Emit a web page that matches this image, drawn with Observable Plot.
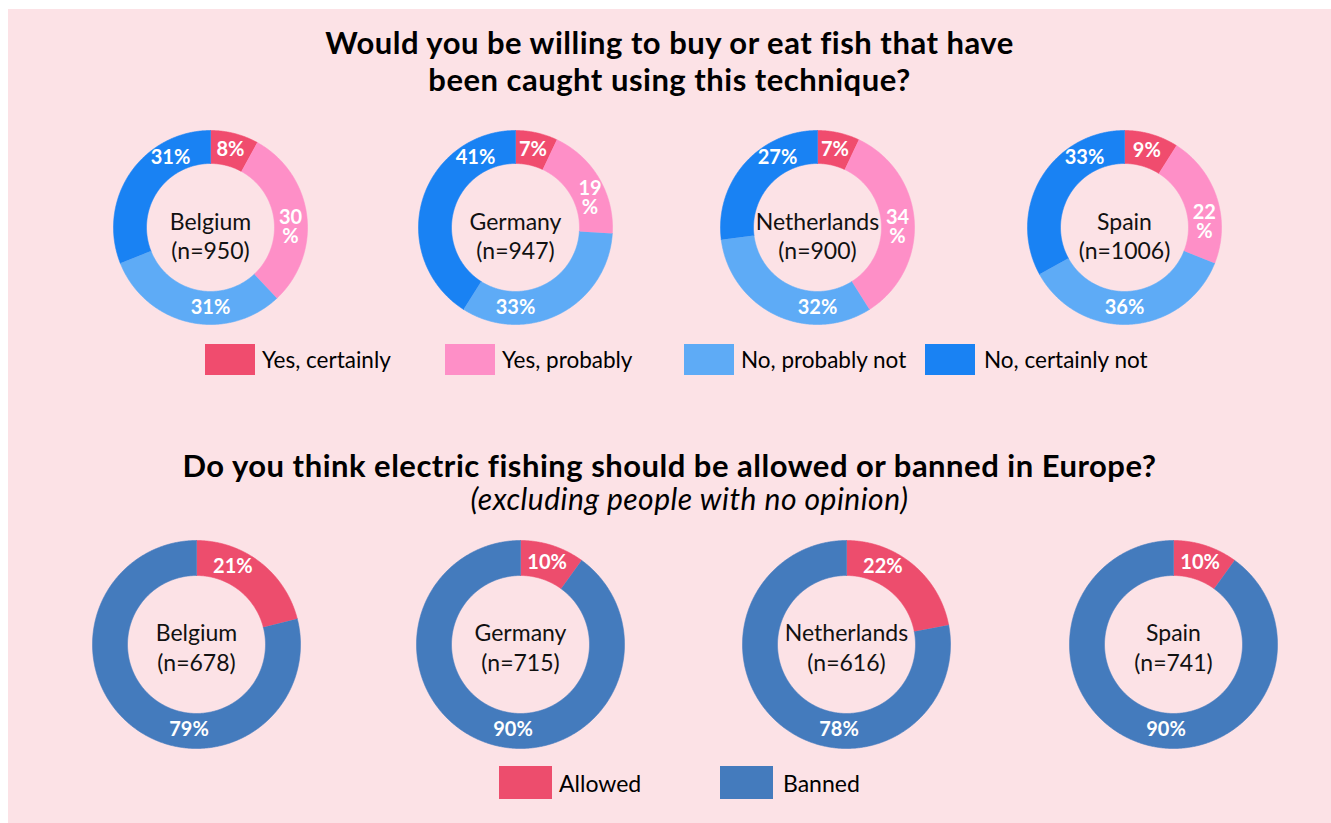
<!DOCTYPE html>
<html>
<head>
<meta charset="utf-8">
<script src="https://cdn.jsdelivr.net/npm/d3@7"></script>
<script src="https://cdn.jsdelivr.net/npm/@observablehq/plot@0.6"></script>
<style>
  html, body { margin: 0; padding: 0; background: #ffffff; }
  body { width: 1331px; height: 823px; position: relative; overflow: hidden; font-family: Lato, "Open Sans", sans-serif; color: #000; }
  #bg { position: absolute; left: 8px; top: 9px; width: 1323px; height: 814px; background: #fce2e6; }
  .title { position: absolute; left: 8px; width: 1323px; text-align: center; font-weight: 700; font-size: 31px; line-height: 37px; letter-spacing: 0.5px; white-space: nowrap; }
  .subtitle { position: absolute; left: 28px; width: 1323px; text-align: center; font-style: italic; font-size: 30px; line-height: 33px; letter-spacing: 0.5px; white-space: nowrap; }
  .donut { position: absolute; }
  .donut svg { display: block; overflow: visible; }
  .leg { position: absolute; display: flex; align-items: center; white-space: nowrap; }
  .leg .sw { flex: none; }
</style>
</head>
<body>
<div id="bg"></div>
<div class="title" style="top:24px">Would you be willing to buy or eat fish that have<br>been caught using this technique?</div>
<div class="title" style="top:447px">Do you think electric fishing should be allowed or banned in Europe?</div>
<div class="subtitle" style="top:482px">(excluding people with no opinion)</div>
<div id="charts"></div>
<script>
// ---------- DATA ----------
const countries = ["Belgium", "Germany", "Netherlands", "Spain"];

// Q1: Would you be willing to buy or eat fish caught using this technique?
const buyCategories = ["Yes, certainly", "Yes, probably", "No, probably not", "No, certainly not"];
const buyN = [950, 947, 900, 1006];
const yesCertainly   = [8, 7, 7, 9];
const yesProbably    = [30, 19, 34, 22];
const noProbablyNot  = [31, 33, 32, 36];
const noCertainlyNot = [31, 41, 27, 33];

// Q2: Should electric fishing be allowed or banned in Europe?
const banCategories = ["Allowed", "Banned"];
const banN = [678, 715, 616, 741];
const allowed = [21, 10, 22, 10];
const banned  = [79, 90, 78, 90];

// ---------- STYLE / LAYOUT ----------
const buyColors = ["#f04c6e", "#fe8fc7", "#5eabf6", "#1982f3"];
const banColors = ["#ed4d6d", "#447bbd"];

const topRow = {
  centersX: [210, 515, 817, 1124], cy: 227,
  rOut: 97, rIn: 64, rLabel: 80,
  prefAngles: [null, 90, 180, 330], split: [false, true, false, false],
  centerDy: 31, centerLineHeight: 1.22
};
const bottomRow = {
  centersX: [196, 520, 846, 1173], cy: 644,
  rOut: 104, rIn: 69, rLabel: 86,
  prefAngles: [25, 185], split: [false, false],
  centerDy: 26, centerLineHeight: 1.3
};
const MARGIN_DEG = 25;
const rad = a => a * Math.PI / 180;

function donut(values, categories, colors, title, cfg) {
  const total = d3.sum(values);
  let acc = 0;
  const slices = values.map((v, i) => {
    const a0 = acc / total * 360; acc += v; const a1 = acc / total * 360;
    return {i, cat: categories[i], value: v, a0, a1};
  });
  const pts = slices.flatMap(s => {
    const n = Math.max(2, Math.ceil((s.a1 - s.a0) / 0.5));
    const angs = d3.range(n + 1).map(k => s.a0 + (s.a1 - s.a0) * k / n);
    const ring = angs.map(a => ({a, r: cfg.rOut})).concat(angs.slice().reverse().map(a => ({a, r: cfg.rIn})));
    return ring.map(p => ({id: s.i, cat: s.cat, x: p.r * Math.sin(rad(p.a)), y: p.r * Math.cos(rad(p.a))}));
  });
  const labels = slices.map(s => {
    const pref = cfg.prefAngles[s.i];
    const span = s.a1 - s.a0;
    let a;
    if (pref == null || span < 2 * MARGIN_DEG) a = (s.a0 + s.a1) / 2;
    else a = Math.min(Math.max(pref, s.a0 + MARGIN_DEG), s.a1 - MARGIN_DEG);
    return {
      text: cfg.split[s.i] ? `${s.value}\n%` : `${s.value}%`,
      x: cfg.rLabel * Math.sin(rad(a)),
      y: cfg.rLabel * Math.cos(rad(a))
    };
  });
  const half = cfg.rOut + 4;
  const size = 2 * half;
  return Plot.plot({
    width: size, height: size, margin: 0,
    x: {domain: [-half, half], axis: null},
    y: {domain: [-half, half], axis: null},
    color: {domain: categories, range: colors},
    style: {background: "transparent", fontFamily: "Lato, 'Open Sans', sans-serif", overflow: "visible"},
    marks: [
      Plot.line(pts, {x: "x", y: "y", z: "id", fill: "cat", stroke: "cat", strokeWidth: 0.6, curve: "linear"}),
      Plot.text(labels, {x: "x", y: "y", text: "text", fill: "white", fontWeight: "bold", fontSize: 20, lineHeight: 0.95}),
      Plot.text([title], {frameAnchor: "middle", text: d => d, fill: "#111", fontSize: 23, lineAnchor: "bottom", dy: cfg.centerDy, lineHeight: cfg.centerLineHeight})
    ]
  });
}

const charts = document.getElementById("charts");
function place(node, cx, cy, half) {
  const wrap = document.createElement("div");
  wrap.className = "donut";
  wrap.style.left = (cx - half) + "px";
  wrap.style.top = (cy - half) + "px";
  wrap.appendChild(node);
  charts.appendChild(wrap);
}

countries.forEach((c, k) => {
  const vals = [yesCertainly[k], yesProbably[k], noProbablyNot[k], noCertainlyNot[k]];
  place(donut(vals, buyCategories, buyColors, `${c}\n(n=${buyN[k]})`, topRow), topRow.centersX[k], topRow.cy, topRow.rOut + 4);
  const vals2 = [allowed[k], banned[k]];
  place(donut(vals2, banCategories, banColors, `${c}\n(n=${banN[k]})`, bottomRow), bottomRow.centersX[k], bottomRow.cy, bottomRow.rOut + 4);
});

// ---------- LEGENDS ----------
function legend(cats, colors, cfg) {
  cats.forEach((cat, i) => {
    const item = document.createElement("div");
    item.className = "leg";
    item.style.left = cfg.lefts[i] + "px";
    item.style.top = cfg.top + "px";
    item.style.height = cfg.sh + "px";
    const sw = document.createElement("div");
    sw.className = "sw";
    sw.style.width = cfg.sw + "px";
    sw.style.height = cfg.sh + "px";
    sw.style.background = colors[i];
    sw.style.marginRight = cfg.gaps[i] + "px";
    const t = document.createElement("span");
    t.textContent = cat;
    t.style.fontSize = cfg.fs + "px";
    item.appendChild(sw); item.appendChild(t);
    document.body.appendChild(item);
  });
}
legend(buyCategories, buyColors, {lefts: [205, 445, 684, 925], top: 344, sw: 50, sh: 31, gaps: [7, 7, 7, 9], fs: 22.5});
legend(banCategories, banColors, {lefts: [499, 720], top: 766, sw: 53, sh: 33, gaps: [7, 10], fs: 23});
</script>
</body>
</html>
